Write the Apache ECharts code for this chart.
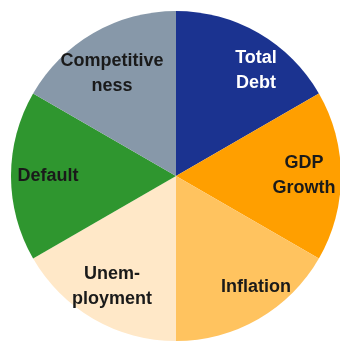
<!DOCTYPE html>
<html>
<head>
<meta charset="utf-8">
<script src="https://cdn.jsdelivr.net/npm/echarts@6/dist/echarts.min.js"></script>
<style>
html,body{margin:0;padding:0;background:#fff;}
#c{width:340px;height:343px;}
</style>
</head>
<body>
<div id="c"></div>
<script>
const categories = ['Total Debt', 'GDP Growth', 'Inflation', 'Unemployment', 'Default', 'Competitiveness'];
const labelLines = [['Total', 'Debt'], ['GDP', 'Growth'], ['Inflation'], ['Unem-', 'ployment'], ['Default'], ['Competitive', 'ness']];
const values = [1, 1, 1, 1, 1, 1];
const colors = ['#1B3390', '#FF9F00', '#FFC35F', '#FFE8C8', '#2F962F', '#8798A9'];
const textColors = ['#ffffff', '#1a1a1a', '#1a1a1a', '#1a1a1a', '#1a1a1a', '#1a1a1a'];
// nudges: leading spacer height (pushes text down by half) and left padding (pushes right by half)
const spacer = [10, 0, 0, 0, 0, 16];
const padLeft = [32, 0, 32, 0, 0, 0];

const chart = echarts.init(document.getElementById('c'), null, {renderer: 'canvas'});
const center = [176, 176];
const baseData = categories.map((c, i) => ({
  name: c, value: values[i], itemStyle: {color: colors[i]}
}));
const labelData = categories.map((c, i) => {
  const txt = labelLines[i].map(l => '{t|' + l + '}').join('\n');
  return {
    name: c, value: values[i],
    label: {
      formatter: spacer[i] ? '{s| }\n' + txt : txt,
      color: textColors[i],
      padding: [0, 0, 0, padLeft[i]],
      rich: {
        t: {
          color: textColors[i], fontSize: 18, fontWeight: 'bold', lineHeight: 25,
          fontFamily: 'Liberation Sans, Arial, sans-serif', align: 'center'
        },
        s: {fontSize: 1, lineHeight: spacer[i] || 1}
      }
    }
  };
});
chart.setOption({
  animation: false,
  series: [
    {
      type: 'pie', center: center, radius: [0, 165], startAngle: 90,
      silent: true, label: {show: false}, labelLine: {show: false},
      itemStyle: {borderWidth: 0},
      data: baseData
    },
    {
      type: 'pie', center: center, radius: [85, 165], startAngle: 90,
      silent: true, labelLine: {show: false},
      itemStyle: {color: 'rgba(0,0,0,0)', borderWidth: 0},
      label: {
        show: true, position: 'inside',
        fontFamily: 'Liberation Sans, Arial, sans-serif',
        fontWeight: 'bold', fontSize: 18, lineHeight: 25, align: 'center'
      },
      data: labelData
    }
  ]
});
</script>
</body>
</html>
